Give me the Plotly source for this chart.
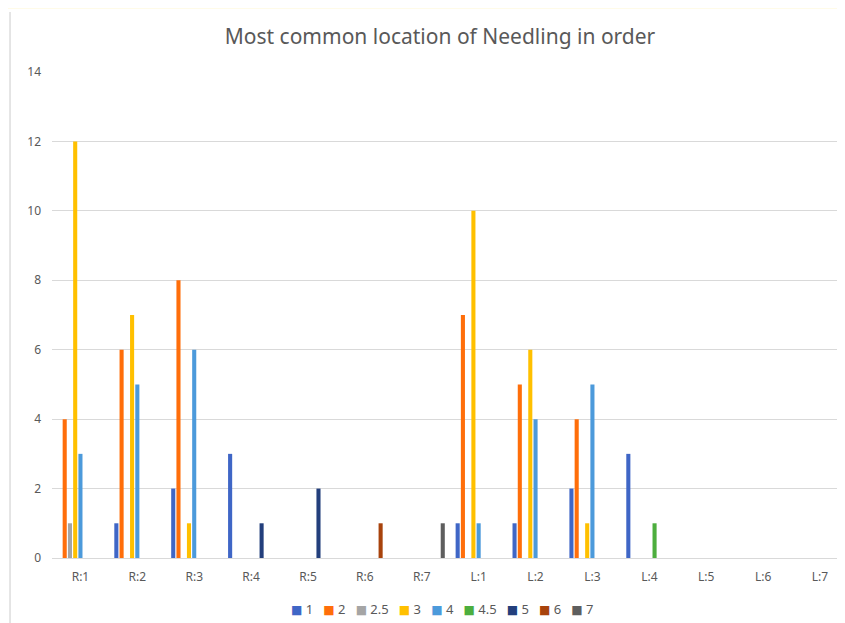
import plotly.graph_objects as go

categories = ["R:1", "R:2", "R:3", "R:4", "R:5", "R:6", "R:7",
              "L:1", "L:2", "L:3", "L:4", "L:5", "L:6", "L:7"]
series_names = ["1", "2", "2.5", "3", "4", "4.5", "5", "6", "7"]

s_1   = [0, 1, 2, 3, 0, 0, 0, 1, 1, 2, 3, 0, 0, 0]
s_2   = [4, 6, 8, 0, 0, 0, 0, 7, 5, 4, 0, 0, 0, 0]
s_2_5 = [1, 0, 0, 0, 0, 0, 0, 0, 0, 0, 0, 0, 0, 0]
s_3   = [12, 7, 1, 0, 0, 0, 0, 10, 6, 1, 0, 0, 0, 0]
s_4   = [3, 5, 6, 0, 0, 0, 0, 1, 4, 5, 0, 0, 0, 0]
s_4_5 = [0, 0, 0, 0, 0, 0, 0, 0, 0, 0, 1, 0, 0, 0]
s_5   = [0, 0, 0, 1, 2, 0, 0, 0, 0, 0, 0, 0, 0, 0]
s_6   = [0, 0, 0, 0, 0, 1, 0, 0, 0, 0, 0, 0, 0, 0]
s_7   = [0, 0, 0, 0, 0, 0, 1, 0, 0, 0, 0, 0, 0, 0]

series_values = [s_1, s_2, s_2_5, s_3, s_4, s_4_5, s_5, s_6, s_7]
colors = ["#3F66C6", "#FF6E0A", "#A5A5A5", "#FFC000", "#4C9ADB",
          "#4DAE3E", "#233F7C", "#A8430C", "#5E5E5E"]

fig = go.Figure()
for name, vals, col in zip(series_names, series_values, colors):
    fig.add_trace(go.Bar(x=categories, y=vals, name=name, showlegend=False,
                         marker=dict(color=col, line=dict(width=0))))

# page body has an 8px margin: work in figure pixels (screen - 8)
OFF = 8
W, H = 845 - OFF, 623 - OFF
ml, mr, mt, mb = 51.5 - OFF, 0, 72 - OFF, 623 - 558
pw, ph = W - ml - mr, H - mt - mb

def px_x(p):
    return (p - OFF - ml) / pw

def px_y(p):
    return (H - mb - (p - OFF)) / ph

shapes = [
    dict(type="rect", xref="paper", yref="paper", layer="below",
         x0=px_x(5), x1=px_x(860), y0=px_y(640), y1=px_y(9),
         fillcolor="white", line=dict(width=0)),
    dict(type="line", xref="paper", yref="paper", layer="above",
         x0=px_x(9.5), x1=px_x(9.5), y0=px_y(640), y1=px_y(12),
         line=dict(color="#D4D4D4", width=1.2)),
]

legend_text = "&nbsp;&nbsp;&nbsp;".join(
    f"<span style='color:{c};font-family:DejaVu Sans;font-size:12px'>■</span> {n}"
    for n, c in zip(series_names, colors))

fig.update_layout(
    width=W, height=H,
    paper_bgcolor="#FFFBE8",
    plot_bgcolor="rgba(0,0,0,0)",
    margin=dict(l=ml, r=mr, t=mt, b=mb, autoexpand=False),
    barmode="group",
    bargap=0.17,
    bargroupgap=0.22,
    title=dict(text="Most common location of Needling in order",
               x=(440 - OFF) / W, xanchor="center", y=1 - (37 - OFF) / H,
               yanchor="middle",
               font=dict(family="Noto Sans", size=21, color="#595959")),
    font=dict(family="Noto Sans", color="#595959", size=12),
    xaxis=dict(range=[-0.5, -0.5 + pw / (740 / 13)], showgrid=False,
               showline=True, linecolor="#D9D9D9", linewidth=1,
               ticks="", ticklabelstandoff=8,
               tickfont=dict(size=12, color="#595959"),
               fixedrange=True),
    yaxis=dict(range=[0, 14], dtick=2, showgrid=True, gridcolor="#D9D9D9",
               gridwidth=1, zeroline=False, showline=False, ticks="",
               ticklabelstandoff=10,
               tickfont=dict(size=12, color="#595959"), fixedrange=True),
    annotations=[dict(text=legend_text, xref="paper", yref="paper",
                      x=px_x(442), y=px_y(609), xanchor="center",
                      yanchor="middle", showarrow=False,
                      font=dict(size=13, color="#595959"))],
    shapes=shapes,
    showlegend=False,
)

fig.write_html("out.html")
